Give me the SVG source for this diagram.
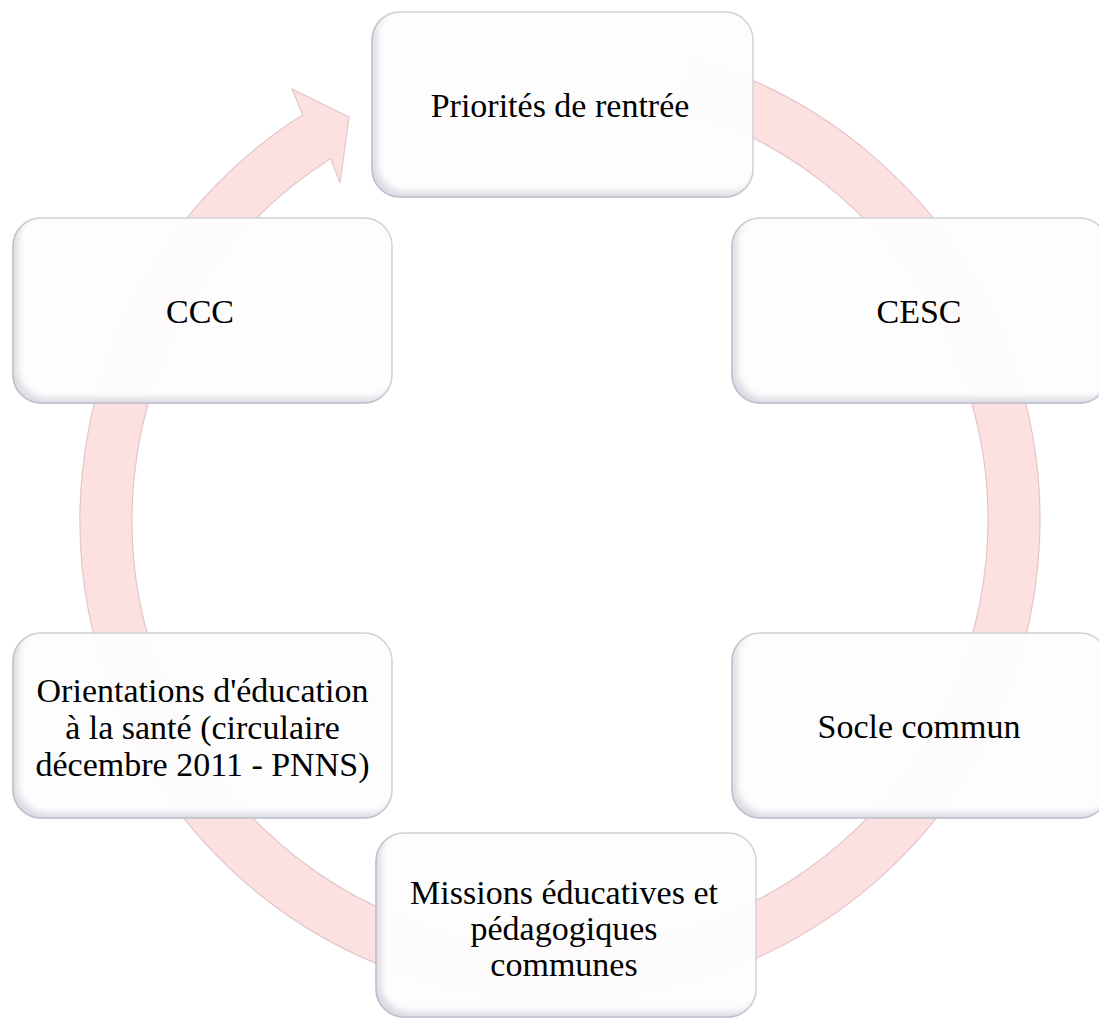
<svg xmlns="http://www.w3.org/2000/svg" width="1099" height="1022" viewBox="0 0 1099 1022">
  <style>
    .node rect { fill: #ffffff; fill-opacity: 0.93; stroke: #d2d3da; stroke-width: 1.5; filter: url(#bevel); }
    .node text { font-family: "Liberation Serif", "Times New Roman", serif; font-size: 34px; fill: #000; text-anchor: middle; }
    .ring { fill: #fde0e0; stroke: #e3c6c8; stroke-width: 1.2; }
  </style>
  <defs>
    <filter id="bevel" x="-5%" y="-8%" width="110%" height="116%">
      <feComponentTransfer in="SourceAlpha" result="inv">
        <feFuncA type="table" tableValues="1 0"/>
      </feComponentTransfer>
      <feOffset in="inv" dx="6" dy="-6" result="off"/>
      <feGaussianBlur in="off" stdDeviation="3" result="blur"/>
      <feFlood flood-color="#a4a4bc" flood-opacity="0.5"/>
      <feComposite in2="blur" operator="in"/>
      <feComposite in2="SourceAlpha" operator="in" result="shadow"/>
      <feMerge>
        <feMergeNode in="SourceGraphic"/>
        <feMergeNode in="shadow"/>
      </feMerge>
    </filter>
  </defs>
  <rect width="1099" height="1022" fill="#ffffff"/>
  <g id="connectors">
    <path class="ring" d="M692.3,58.6 A480,480 0 1 1 302.8,114.7 L292,89 L349,117 L340,183 L330.7,158.6 A428,428 0 1 0 678,108.6 Z"/>
  </g>
  <g id="node-priorites" class="node">
    <rect x="372" y="12" width="381" height="185" rx="28"/>
    <text x="560" y="117">Priorités de rentrée</text>
  </g>
  <g id="node-cesc" class="node">
    <rect x="732" y="218" width="376" height="185" rx="28"/>
    <text x="919" y="323">CESC</text>
  </g>
  <g id="node-socle" class="node">
    <rect x="732" y="633" width="376" height="185" rx="28"/>
    <text x="919" y="738">Socle commun</text>
  </g>
  <g id="node-missions" class="node">
    <rect x="376" y="833" width="380" height="184" rx="28"/>
    <text x="564" y="904">Missions éducatives et</text>
    <text x="564" y="940">pédagogiques</text>
    <text x="564" y="976">communes</text>
  </g>
  <g id="node-orientations" class="node">
    <rect x="13" y="633" width="379" height="185" rx="28"/>
    <text x="202.5" y="702">Orientations d'éducation</text>
    <text x="202.5" y="739">à la santé (circulaire</text>
    <text x="202.5" y="776">décembre 2011 - PNNS)</text>
  </g>
  <g id="node-ccc" class="node">
    <rect x="13" y="218" width="379" height="185" rx="28"/>
    <text x="200" y="323">CCC</text>
  </g>
</svg>
